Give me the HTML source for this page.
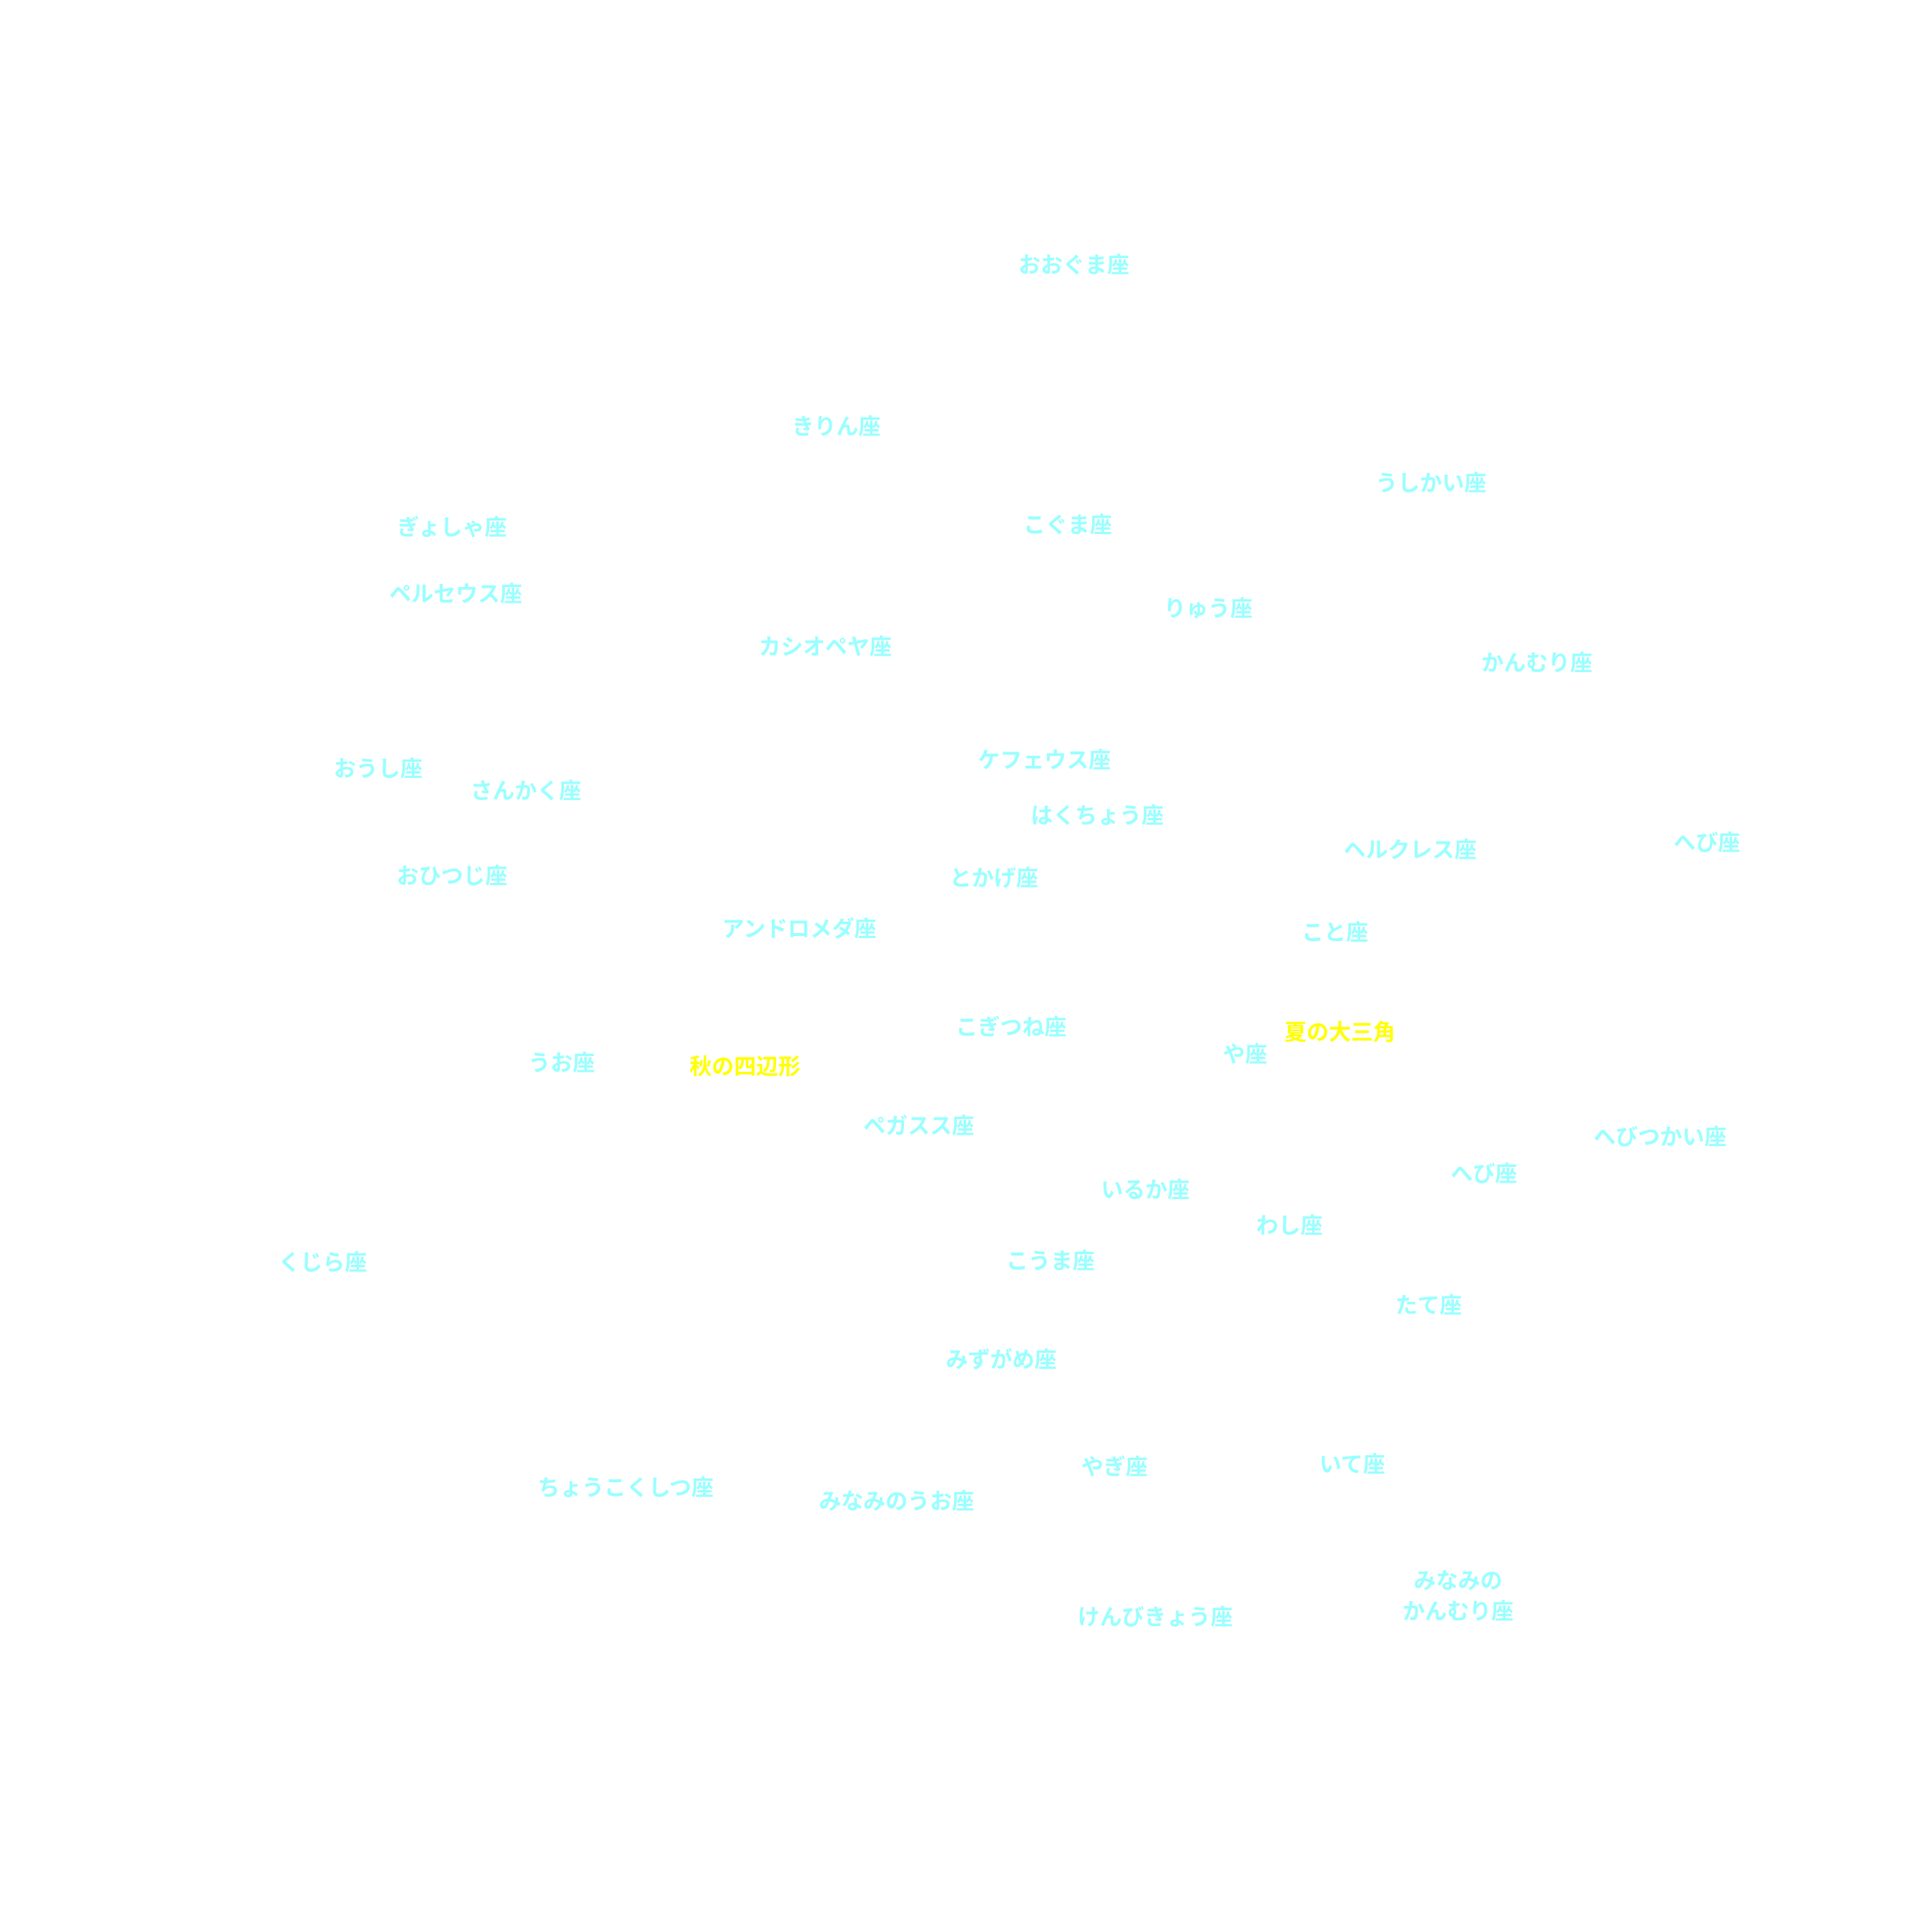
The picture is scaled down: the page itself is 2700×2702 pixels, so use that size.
<!DOCTYPE html>
<html><head><meta charset="utf-8"><style>
html,body{margin:0;padding:0;background:#fff;width:2700px;height:2700px;overflow:hidden}
#c{position:absolute;left:0;top:2px;width:1568px;height:1568px;transform:scale(1.72194);transform-origin:0 0}
#c div{position:absolute;transform:translate(-50%,-50%);white-space:nowrap;font-family:"Liberation Sans","Noto Sans CJK JP",sans-serif;font-size:18px;font-weight:bold;color:#99ffff;text-align:center;line-height:25px}
#c div.y{color:#ffff00}
</style></head><body><div id="c">
<div style="left:872px;top:215px">おおぐま座</div>
<div style="left:679px;top:346px">きりん座</div>
<div style="left:1162px;top:392px">うしかい座</div>
<div style="left:367px;top:428px">ぎょしゃ座</div>
<div style="left:867px;top:426px">こぐま座</div>
<div style="left:370px;top:482px">ペルセウス座</div>
<div style="left:981px;top:494px">りゅう座</div>
<div style="left:670px;top:525px">カシオペヤ座</div>
<div style="left:1248px;top:538px">かんむり座</div>
<div style="left:848px;top:617px">ケフェウス座</div>
<div style="left:307px;top:624px">おうし座</div>
<div style="left:427px;top:642px">さんかく座</div>
<div style="left:891px;top:662px">はくちょう座</div>
<div style="left:1145px;top:690px">ヘルクレス座</div>
<div style="left:1386px;top:684px">へび座</div>
<div style="left:367px;top:711px">おひつじ座</div>
<div style="left:807px;top:713px">とかげ座</div>
<div style="left:649px;top:754px">アンドロメダ座</div>
<div style="left:1084px;top:757px">こと座</div>
<div style="left:821px;top:834px">こぎつね座</div>
<div class="y" style="left:1088px;top:838px">夏の大三角</div>
<div style="left:1011px;top:856px">や座</div>
<div style="left:456px;top:863px">うお座</div>
<div class="y" style="left:605px;top:866px">秋の四辺形</div>
<div style="left:746px;top:914px">ペガスス座</div>
<div style="left:1348px;top:923px">へびつかい座</div>
<div style="left:1205px;top:953px">へび座</div>
<div style="left:930px;top:966px">いるか座</div>
<div style="left:1047px;top:995px">わし座</div>
<div style="left:262px;top:1025px">くじら座</div>
<div style="left:853px;top:1024px">こうま座</div>
<div style="left:1160px;top:1060px">たて座</div>
<div style="left:813px;top:1104px">みずがめ座</div>
<div style="left:905px;top:1191px">やぎ座</div>
<div style="left:1098px;top:1189px">いて座</div>
<div style="left:508px;top:1208px">ちょうこくしつ座</div>
<div style="left:728px;top:1219px">みなみのうお座</div>
<div style="left:1184px;top:1296px">みなみの<br>かんむり座</div>
<div style="left:938px;top:1313px">けんびきょう座</div>
</div></body></html>
